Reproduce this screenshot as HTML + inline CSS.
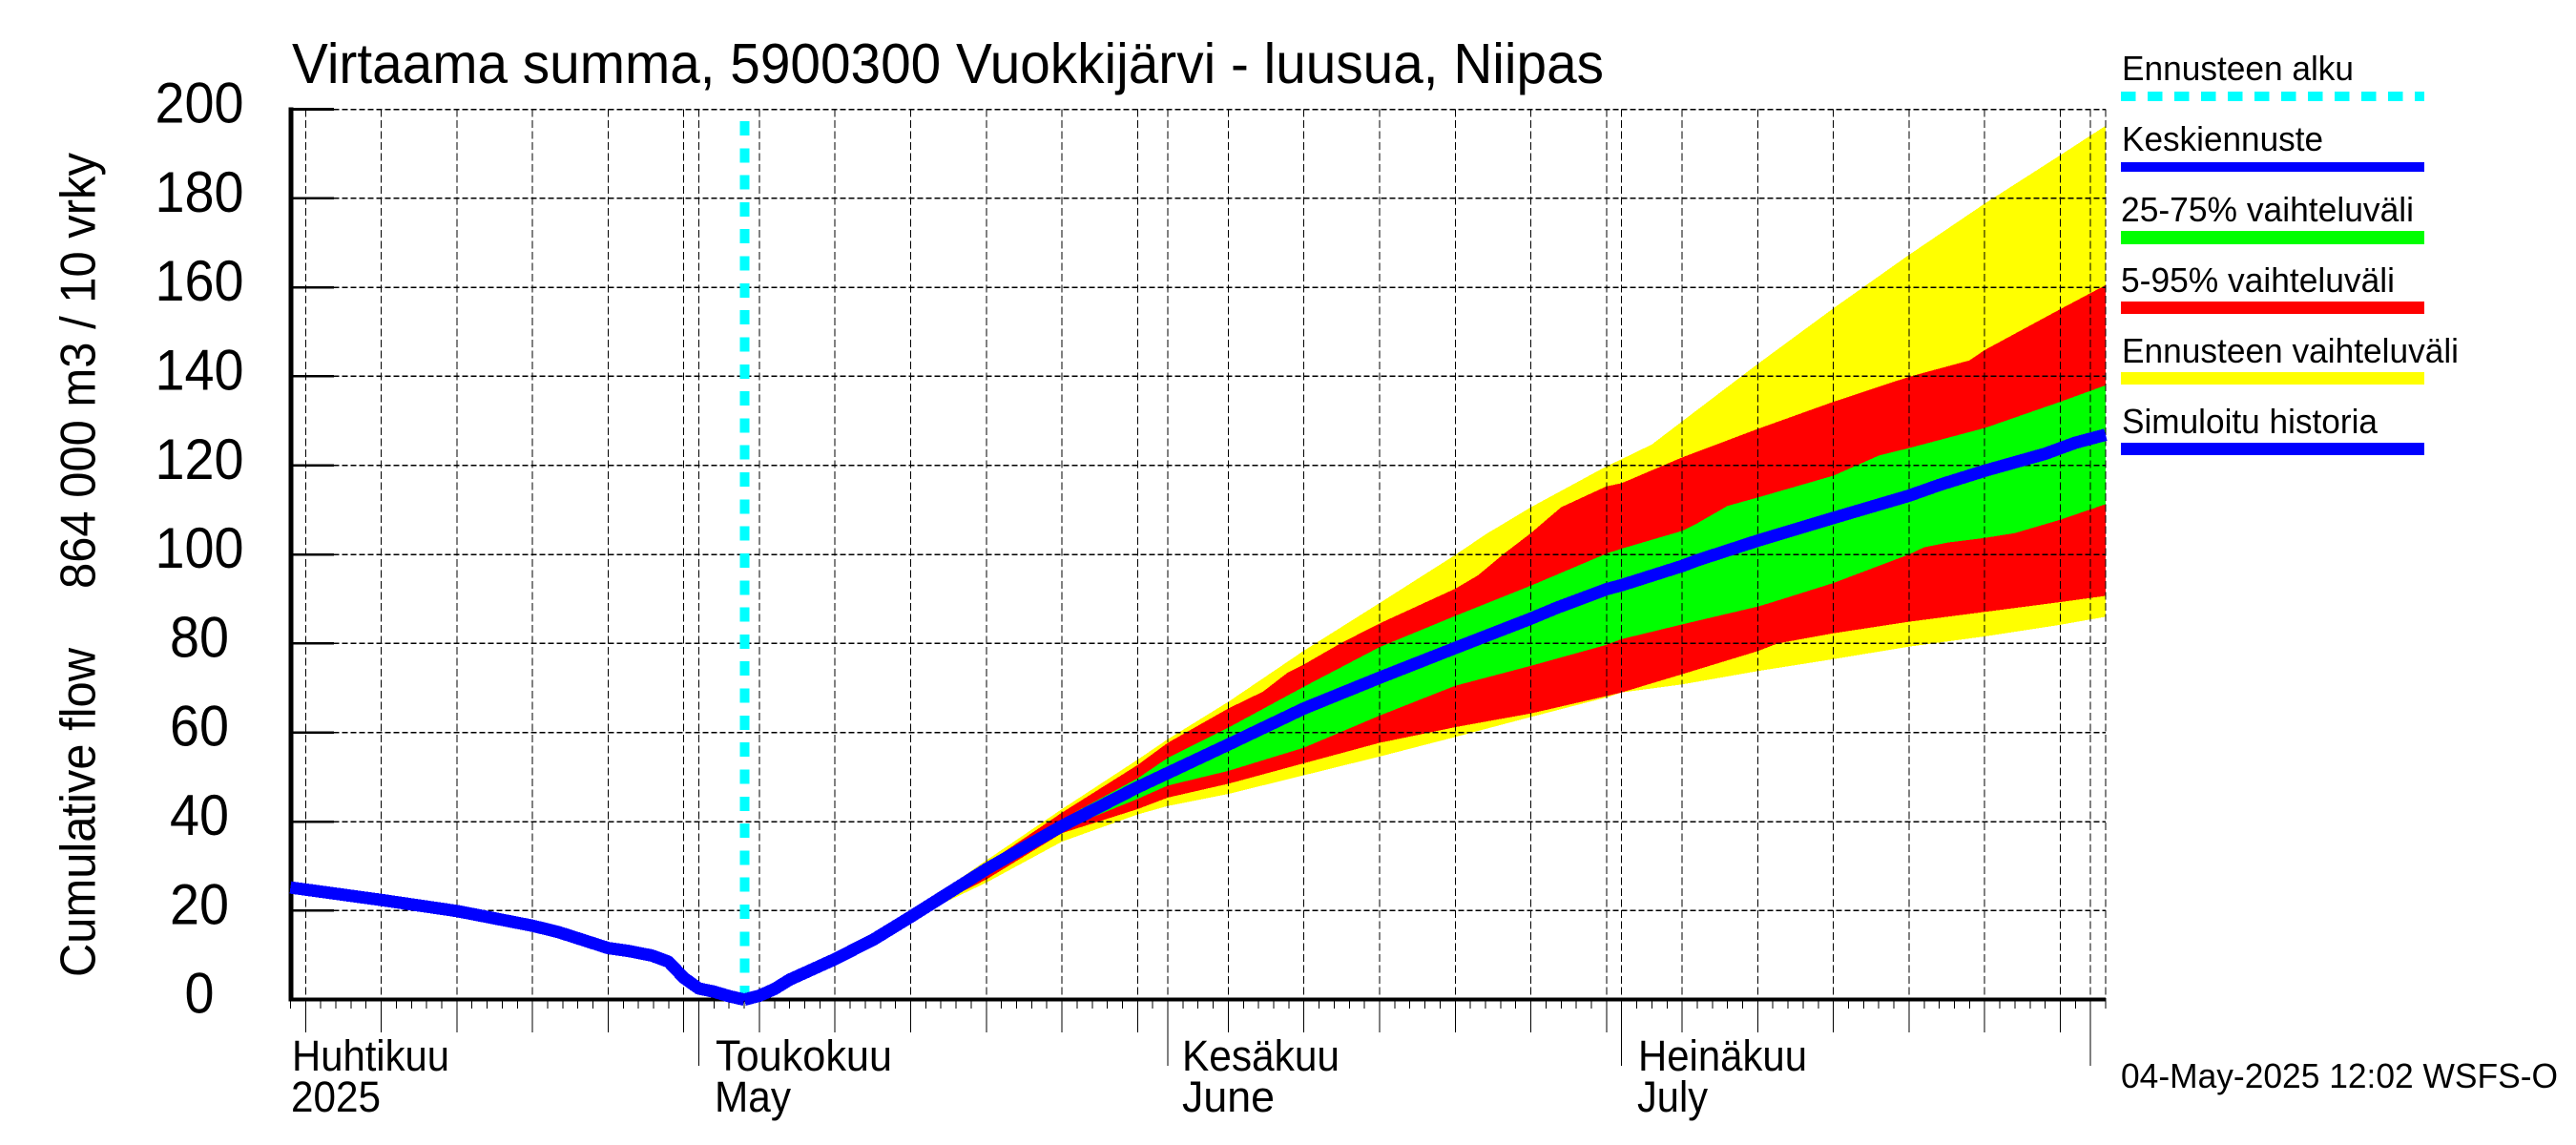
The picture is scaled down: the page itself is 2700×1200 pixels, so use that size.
<!DOCTYPE html>
<html lang="fi">
<head>
<meta charset="utf-8">
<title>Virtaama summa, 5900300 Vuokkijärvi - luusua, Niipas</title>
<style>
  html, body { margin: 0; padding: 0; background: #fff; width: 2700px; height: 1200px; overflow: hidden; }
  svg { display: block; }
  text { font-family: "Liberation Sans", sans-serif; fill: #000; }
</style>
</head>
<body>
<svg id="chart" xmlns="http://www.w3.org/2000/svg" width="2700" height="1200" viewBox="0 0 2700 1200">
  <rect x="0" y="0" width="2700" height="1200" fill="#ffffff"/>
  <g id="bands" shape-rendering="crispEdges"></g>
  <g id="grid" shape-rendering="crispEdges"></g>
  <g id="axes" shape-rendering="crispEdges"></g>
  <g id="marks" shape-rendering="crispEdges"></g>
  <g id="ylabels"></g>

  <text x="306" y="87" font-size="59" textLength="1375" lengthAdjust="spacingAndGlyphs">Virtaama summa, 5900300 Vuokkijärvi - luusua, Niipas</text>

  <text transform="translate(99.5 617) rotate(-90)" font-size="52" textLength="457" lengthAdjust="spacingAndGlyphs">864 000 m3 / 10 vrky</text>
  <text transform="translate(99.5 1024) rotate(-90)" font-size="52" textLength="345" lengthAdjust="spacingAndGlyphs">Cumulative flow</text>

  <text x="306" y="1122" font-size="45" textLength="165" lengthAdjust="spacingAndGlyphs">Huhtikuu</text>
  <text x="305" y="1165" font-size="45" textLength="94" lengthAdjust="spacingAndGlyphs">2025</text>
  <text x="750" y="1122" font-size="45" textLength="185" lengthAdjust="spacingAndGlyphs">Toukokuu</text>
  <text x="749" y="1165" font-size="45" textLength="80" lengthAdjust="spacingAndGlyphs">May</text>
  <text x="1239" y="1122" font-size="45" textLength="165" lengthAdjust="spacingAndGlyphs">Kesäkuu</text>
  <text x="1239" y="1165" font-size="45" textLength="97" lengthAdjust="spacingAndGlyphs">June</text>
  <text x="1717" y="1122" font-size="45" textLength="177" lengthAdjust="spacingAndGlyphs">Heinäkuu</text>
  <text x="1716" y="1165" font-size="45" textLength="74" lengthAdjust="spacingAndGlyphs">July</text>

  <text x="2223" y="1140" font-size="36" textLength="458" lengthAdjust="spacingAndGlyphs">04-May-2025 12:02 WSFS-O</text>

  <g shape-rendering="crispEdges">
    <text x="2224" y="84" font-size="36" textLength="243" lengthAdjust="spacingAndGlyphs">Ennusteen alku</text>
    <line x1="2223" x2="2541" y1="101" y2="101" stroke="#00ffff" stroke-width="10" stroke-dasharray="15.4 12.6"/>
    <text x="2224" y="158" font-size="36" textLength="211" lengthAdjust="spacingAndGlyphs">Keskiennuste</text>
    <rect x="2223" y="170" width="318" height="10" fill="#0000ff"/>
    <text x="2223" y="232" font-size="36" textLength="307" lengthAdjust="spacingAndGlyphs">25-75% vaihteluväli</text>
    <rect x="2223" y="242" width="318" height="14" fill="#00ff00"/>
    <text x="2223" y="306" font-size="36" textLength="287" lengthAdjust="spacingAndGlyphs">5-95% vaihteluväli</text>
    <rect x="2223" y="316" width="318" height="13" fill="#ff0000"/>
    <text x="2224" y="380" font-size="36" textLength="353" lengthAdjust="spacingAndGlyphs">Ennusteen vaihteluväli</text>
    <rect x="2223" y="390" width="318" height="13" fill="#ffff00"/>
    <text x="2224" y="454" font-size="36" textLength="268" lengthAdjust="spacingAndGlyphs">Simuloitu historia</text>
    <rect x="2223" y="464" width="318" height="13" fill="#0000ff"/>
  </g>
</svg>

<script>
// Days are counted from 1 April 2025 (day 0). Values are flow in units of 864 000 m3 / 10 days.
const yTicks = [0, 20, 40, 60, 80, 100, 120, 140, 160, 180, 200];
const axisStartDay = 3;
const axisEndDay = 123;
const forecastStartDay = 33;
const monthStartDays = [30, 61, 91, 122];
const gridDays = [4, 9, 14, 19, 24, 29, 34, 39, 44, 49, 54, 59, 65, 70, 75, 80, 85, 90, 95, 100, 105, 110, 115, 120];

const historyDays = [3, 9, 14, 19, 20.7, 24, 25.4, 26.9, 28, 29, 30, 31, 32, 33];
const historyValues = [25.2, 22.4, 19.9, 16.6, 15.2, 11.6, 10.9, 9.9, 8.5, 4.9, 2.5, 1.8, 0.8, 0];

const medianDays = [33, 34, 35, 36, 39, 41.6, 44, 49, 54, 59, 61, 65, 70, 75, 80, 85, 86.7, 90, 91, 95, 96, 100, 105, 110, 111, 112, 115, 119, 121, 123];
const medianValues = [0, 0.9, 2.4, 4.5, 9.1, 13.6, 18.6, 29.3, 39, 47.7, 50.9, 57.3, 65.4, 72.3, 79, 85.6, 88, 92.2, 93.1, 97.4, 98.7, 103.1, 108.2, 113.2, 114.4, 115.6, 118.8, 122.6, 125.1, 126.9];

const maxDays = [33, 39, 44, 49, 54, 59, 61, 65, 70, 75, 80, 82, 85, 90, 91, 93, 95, 100, 105, 110, 115, 120, 123];
const maxValues = [0, 9.1, 19.5, 31.3, 42.8, 53.9, 58.5, 66.9, 78.4, 89.1, 99.9, 104.5, 110.6, 119.8, 121.4, 124.7, 129.9, 142.8, 155.3, 167.3, 178.8, 189.7, 196.3];
const minDays = [33, 39, 44, 49, 54, 59, 61, 65, 70, 75, 80, 85, 90, 91, 95, 100, 105, 110, 115, 120, 123];
const minValues = [0, 9.1, 18.2, 26.3, 35.5, 41.6, 43.5, 46.2, 50.4, 54.6, 59, 63.5, 67.9, 69, 70.8, 73.8, 76.5, 79.3, 81.6, 84.2, 86];

const p95Days = [33, 39, 44, 49, 54, 59, 61, 65, 67.3, 68.9, 70, 72.4, 75, 80, 81.5, 83.2, 85, 87, 90, 91, 95, 100, 105, 110, 114, 115, 120, 123];
const p95Values = [0, 9.1, 19.2, 30.5, 42, 52.7, 57.7, 65.4, 69.2, 73.4, 75.3, 80, 84.5, 92.3, 95.3, 100.1, 104.8, 110.6, 115.3, 116, 121.8, 128.2, 134.3, 139.9, 143.6, 145.9, 155.1, 160.5];
const p05Days = [33, 39, 44, 49, 54, 59, 61, 65, 70, 75, 80, 85, 90, 91, 95, 100, 101.3, 105, 110, 115, 120, 123];
const p05Values = [0, 9.1, 18.4, 27, 37.4, 42.8, 45.4, 48.5, 53.1, 57.7, 61.2, 64.3, 68.2, 69, 73.1, 78.3, 80, 82.3, 84.9, 87.1, 89.3, 90.7];

const p75Days = [33, 39, 44, 49, 54, 59, 61, 65, 70, 75, 80, 85, 90, 91, 95, 96, 98, 100, 105, 108, 110, 115, 120, 123];
const p75Values = [0, 9.1, 19, 29.7, 40.5, 49.7, 54.3, 61.1, 70.3, 79.2, 86.2, 93, 100.2, 101.3, 105.3, 107, 110.9, 112.8, 117.7, 122.2, 123.9, 128.4, 134.3, 138];
const p25Days = [33, 39, 44, 49, 54, 59, 61, 65, 70, 75, 80, 85, 90, 91, 95, 100, 101, 105, 110, 111, 112.6, 115, 117, 120, 123];
const p25Values = [0, 9.1, 18.6, 28.2, 38.2, 45.1, 48.1, 51.4, 56.6, 63.8, 70.5, 75, 79.7, 81, 84.3, 88.3, 89.3, 93.6, 100, 101.6, 102.7, 103.7, 104.8, 107.8, 111.3];

function xScale(day) { return 320.3 + (day - 4) * 15.855; }
function yScale(value) { return 1047.7 - value * 4.666; }

const SVG_NS = 'http://www.w3.org/2000/svg';
function make(tag, parent, attrs) {
  const el = document.createElementNS(SVG_NS, tag);
  for (const key in attrs) { el.setAttribute(key, attrs[key]); }
  parent.appendChild(el);
  return el;
}
function points(days, values) {
  return days.map((d, i) => xScale(d).toFixed(1) + ',' + yScale(values[i]).toFixed(1));
}
function bandPoints(upDays, upValues, lowDays, lowValues) {
  return points(upDays, upValues).concat(points(lowDays, lowValues).reverse()).join(' ');
}

const bands = document.getElementById('bands');
const grid = document.getElementById('grid');
const axes = document.getElementById('axes');
const marks = document.getElementById('marks');
const ylabels = document.getElementById('ylabels');

const yellowBand = make('polygon', bands, { points: bandPoints(maxDays, maxValues, minDays, minValues), fill: '#ffff00' });


const redBand = make('polygon', bands, { points: bandPoints(p95Days, p95Values, p05Days, p05Values), fill: '#ff0000' });


const greenBand = make('polygon', bands, { points: bandPoints(p75Days, p75Values, p25Days, p25Values), fill: '#00ff00' });



const left = xScale(axisStartDay);
const right = xScale(axisEndDay);
const zeroY = yScale(0);
const topY = yScale(200);

yTicks.forEach(function (tick) {
  if (tick !== 0) {
    const gridLine = make('line', grid, { x1: left, x2: right, y1: yScale(tick), y2: yScale(tick), stroke: '#000', 'stroke-width': 1.5, 'stroke-dasharray': '6 3' });
    
    
  }
  const tickMark = make('line', axes, { x1: left, x2: 350, y1: yScale(tick), y2: yScale(tick), stroke: '#000', 'stroke-width': tick === 200 ? 3 : 2.5 });
  
  
  const label = String(tick);
  const tickLabel = make('text', ylabels, { x: 209, y: yScale(tick) + 14, 'font-size': 60, 'text-anchor': 'middle', textLength: label.length * 31, lengthAdjust: 'spacingAndGlyphs' });
  
  
  tickLabel.textContent = label;
});

gridDays.concat(monthStartDays, [axisEndDay]).forEach(function (day) {
  const gridLine = make('line', grid, { x1: xScale(day), x2: xScale(day), y1: topY, y2: zeroY, stroke: '#000', 'stroke-width': 1, 'stroke-dasharray': '8 3.5' });
  
  
});

for (let day = axisStartDay; day <= axisEndDay; day++) {
  let tickEnd = 1057;
  if (gridDays.includes(day)) { tickEnd = 1082; }
  if (monthStartDays.includes(day)) { tickEnd = 1117; }
  const xTick = make('line', axes, { x1: xScale(day), x2: xScale(day), y1: zeroY, y2: tickEnd, stroke: '#000', 'stroke-width': 1 });
  
  
}

const yAxis = make('line', axes, { x1: left + 0.5, x2: left + 0.5, y1: topY - 2, y2: zeroY + 2, stroke: '#000', 'stroke-width': 5 });


const xAxis = make('line', axes, { x1: left - 2, x2: right, y1: zeroY, y2: zeroY, stroke: '#000', 'stroke-width': 4 });



const startLine = make('line', marks, { x1: xScale(forecastStartDay) + 0.5, x2: xScale(forecastStartDay) + 0.5, y1: 127, y2: zeroY, stroke: '#00ffff', 'stroke-width': 10, 'stroke-dasharray': '15 13.31' });



const historyLine = make('polyline', marks, { points: points(historyDays, historyValues).join(' '), fill: 'none', stroke: '#0000ff', 'stroke-width': 13, 'stroke-linejoin': 'round' });


const medianLine = make('polyline', marks, { points: points(medianDays, medianValues).join(' '), fill: 'none', stroke: '#0000ff', 'stroke-width': 13, 'stroke-linejoin': 'round' });


</script>
</body>
</html>
